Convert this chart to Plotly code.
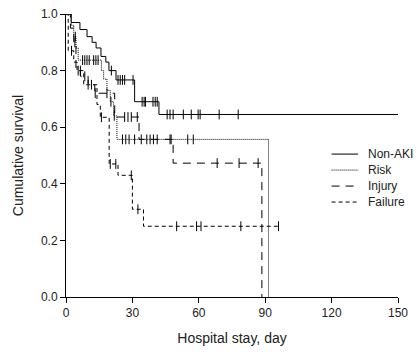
import plotly.graph_objects as go

# ---- data ----
# Kaplan-Meier step data: event days and survival after each event
nonaki_t = [0, 2.3, 6.3, 9.5, 11.8, 13.6, 15.8, 18, 19.4, 22.6, 31, 42, 150]
nonaki_s = [1.0, 0.97, 0.945, 0.92, 0.90, 0.88, 0.85, 0.83, 0.80, 0.767, 0.69, 0.645, 0.645]
nonaki_cens = [20.5, 23.5, 24.5, 25.5, 26.5, 30.3, 34.4, 35.3, 35.9, 39.3, 40.3, 41.2,
               45.7, 47, 48.4, 53, 56.6, 59.7, 60.6, 69.2, 77.8]

risk_t = [0, 2.5, 3.5, 4.5, 5.5, 16, 17, 18.5, 20, 21.5, 23, 91.5]
risk_s = [1.0, 0.96, 0.92, 0.88, 0.837, 0.80, 0.77, 0.73, 0.69, 0.64, 0.557, 0.0]
risk_cens = [4.2, 7.5, 8.5, 9.5, 10.5, 12.5, 13.5, 14.5, 20.3, 21.8,
             25.5, 27, 28.5, 31, 34, 36.5, 38, 39.5, 41.2, 47, 55, 57.5]

injury_t = [0, 2, 3.5, 4.5, 6.5, 10, 13, 22, 33, 48.4, 88.5]
injury_s = [1.0, 0.95, 0.90, 0.80, 0.78, 0.75, 0.72, 0.636, 0.557, 0.473, 0.0]
injury_cens = [4.0, 5.5, 8.5, 11.5, 13.2, 18.5, 26.5, 28, 29.5, 32.2, 47.5,
               68.3, 78.2, 86.8]

failure_t = [0, 1, 3.5, 5, 8, 14, 15.5, 19.5, 23.5, 30, 35, 96]
failure_s = [1.0, 0.87, 0.83, 0.80, 0.75, 0.68, 0.635, 0.47, 0.43, 0.31, 0.25, 0.25]
failure_cens = [2.5, 6.5, 10, 16, 20, 22.5, 29.5, 32.5, 50, 59, 61, 79, 96]

groups = ["Non-AKI", "Risk", "Injury", "Failure"]
dashes = ["solid", "1px,1px", "8px,6px", "4px,3px"]

x_ticks = [0, 30, 60, 90, 120, 150]
y_ticks = [0, 0.2, 0.4, 0.6, 0.8, 1.0]


def surv_at(ts, ss, x):
    y = ss[0]
    for t, s in zip(ts, ss):
        if t <= x:
            y = s
    return y


fig = go.Figure()
series = [(nonaki_t, nonaki_s, nonaki_cens), (risk_t, risk_s, risk_cens),
          (injury_t, injury_s, injury_cens), (failure_t, failure_s, failure_cens)]

for name, dash, (ts, ss, cens) in zip(groups, dashes, series):
    fig.add_trace(go.Scatter(
        x=ts, y=ss, mode="lines", name=name, showlegend=False,
        line=dict(color="black", width=1, dash=dash, shape="hv"),
    ))
    fig.add_trace(go.Scatter(
        x=cens, y=[surv_at(ts, ss, c) for c in cens], mode="markers",
        showlegend=False, hoverinfo="skip",
        marker=dict(symbol="line-ns", size=7, color="black",
                    line=dict(color="black", width=1)),
        cliponaxis=False,
    ))

# legend drawn in paper coordinates (compact row spacing like the reference)
leg_x0, leg_x1, leg_tx = 0.800, 0.880, 0.904
leg_y0, leg_dy = 0.505, 0.0565
for i, (name, dash) in enumerate(zip(groups, dashes)):
    yy = leg_y0 - i * leg_dy
    fig.add_shape(type="line", xref="paper", yref="paper",
                  x0=leg_x0, x1=leg_x1, y0=yy, y1=yy,
                  line=dict(color="black", width=1, dash=dash))
    fig.add_annotation(xref="paper", yref="paper", x=leg_tx, y=yy,
                       text=name, showarrow=False, xanchor="left",
                       yanchor="middle", font=dict(size=12, color="#222"))

fig.update_layout(
    width=419, height=355,
    margin=dict(l=66, r=21, t=14, b=58),
    plot_bgcolor="white", paper_bgcolor="white",
    font=dict(family="Liberation Sans, Arial, sans-serif", size=12, color="#222"),
    showlegend=False,
)
fig.update_xaxes(
    range=[0, 150], tickvals=x_ticks,
    showline=True, linecolor="black", linewidth=1,
    ticks="outside", ticklen=5, tickcolor="black",
    showgrid=False, zeroline=False, automargin=False, ticklabeloverflow="allow",
    title=dict(text="Hospital stay, day", font=dict(size=14), standoff=13),
)
fig.update_yaxes(
    range=[0, 1], tickvals=y_ticks, tickformat=".1f",
    showline=True, linecolor="black", linewidth=1,
    ticks="outside", ticklen=5, tickcolor="black",
    showgrid=False, zeroline=False, automargin=False, ticklabeloverflow="allow",
    title=dict(text="Cumulative survival", font=dict(size=14), standoff=14),
)

# remove the default 8px page margin so the figure fills the window exactly
fig.write_html("out.html", config={"displayModeBar": False},
               post_script="document.body.style.margin='0';")
